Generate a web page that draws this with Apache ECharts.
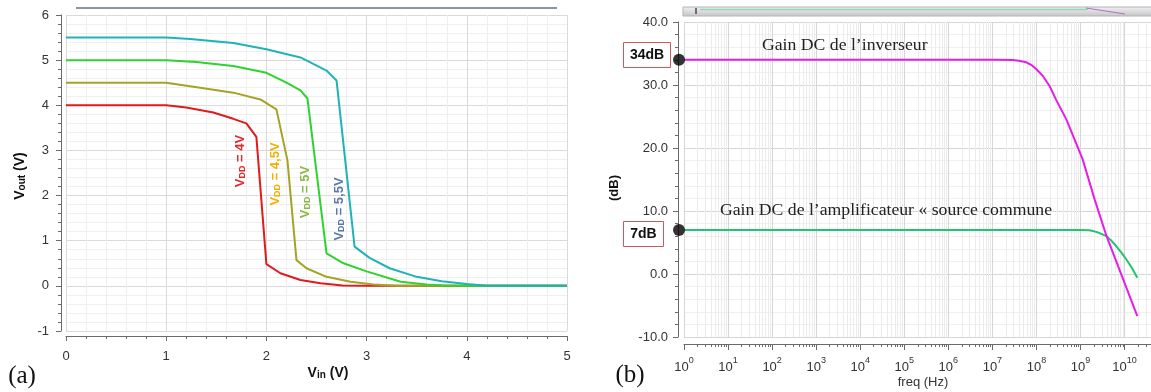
<!DOCTYPE html>
<html><head><meta charset="utf-8">
<script src="https://cdn.jsdelivr.net/npm/echarts@6/dist/echarts.min.js"></script>
<style>html,body{margin:0;padding:0;background:#fff}#c{width:1151px;height:392px}</style>
</head><body><div id="c"></div>
<script>
// ---------- Panel (a): inverter transfer curves ----------
const vinRed  = [0, 1.0, 1.2, 1.47, 1.67, 1.8, 1.9, 2.0, 2.14, 2.34, 2.54, 2.76, 3.0, 5.0];
const voutRed = [4.0, 4.0, 3.95, 3.84, 3.7, 3.6, 3.3, 0.48, 0.28, 0.13, 0.06, 0.01, 0, 0];
const vinOlive  = [0, 1.0, 1.34, 1.67, 1.94, 2.1, 2.21, 2.3, 2.4, 2.6, 2.84, 3.07, 3.3, 5.0];
const voutOlive = [4.5, 4.5, 4.39, 4.28, 4.13, 3.91, 2.78, 0.57, 0.39, 0.2, 0.09, 0.03, 0, 0];
const vinGreen  = [0, 1.0, 1.3, 1.67, 2.0, 2.2, 2.34, 2.41, 2.6, 2.77, 3.0, 3.34, 3.6, 3.8, 5.0];
const voutGreen = [5.0, 5.0, 4.96, 4.87, 4.72, 4.5, 4.33, 4.15, 0.72, 0.5, 0.32, 0.09, 0.03, 0, 0];
const vinCyan  = [0, 1.0, 1.24, 1.67, 2.0, 2.34, 2.6, 2.7, 2.88, 3.03, 3.23, 3.5, 3.75, 4.0, 4.2, 5.0];
const voutCyan = [5.5, 5.5, 5.47, 5.38, 5.24, 5.06, 4.77, 4.55, 0.87, 0.62, 0.39, 0.2, 0.1, 0.04, 0, 0];
const vddLabels = ['4V', '4,5V', '5V', '5,5V'];
const vinRange = [0, 5];
const voutRange = [-1, 6];

// ---------- Panel (b): gain vs frequency ----------
const invFreq = [1, 1.23e7, 2.9e7, 3.98e7, 5.9e7, 7.94e7, 1e8, 1.41e8, 2e8, 2.82e8, 4.8e8, 7.08e8, 1.12e9, 2.1e9, 3.9e9, 1.95e10];
const invGain = [34, 34, 33.95, 33.85, 33.6, 33.1, 32.5, 31.4, 29.8, 27.6, 24.5, 21.6, 18.2, 11.8, 6.0, -6.7];
const csFreq = [1, 8.7e8, 1.6e9, 2e9, 2.7e9, 3.9e9, 5e9, 6.5e9, 8.5e9, 1.1e10, 1.48e10, 1.95e10];
const csGain = [7, 7, 6.95, 6.8, 6.5, 6.0, 5.3, 4.4, 3.4, 2.3, 0.9, -0.6];
const dcPoints = [[1, 34], [1, 7]];
const dcLabels = ['34dB', '7dB'];
const gainRange = [-10, 40];
const freqDecades = [0, 10];

const zip = (a, b) => a.map((v, i) => [v, b[i]]);
const fMax = Math.pow(10, 10.6);
const minorFreqs = [];
for (let n = freqDecades[0]; n <= freqDecades[1]; n++) {
  for (let k = 2; k <= 9; k++) { const f = k * Math.pow(10, n); if (f < fMax) minorFreqs.push(f); }
}

const axisCol = '#6a6a6a';
const labCol = '#333';
const sans = '"Liberation Sans", Arial, sans-serif';
const serif = '"Liberation Serif", "Times New Roman", serif';

const chart = echarts.init(document.getElementById('c'), null, {renderer: 'canvas'});
const txt = (o) => Object.assign({z: 100}, o);
const option = {
  animation: false,
  backgroundColor: '#fff',
  grid: [
    {left: 66, top: 15, width: 501, height: 316},
    {left: 684, top: 22, right: 0, height: 315}
  ],
  xAxis: [
    {gridIndex: 0, type: 'value', min: vinRange[0], max: vinRange[1], interval: 1, offset: 5,
     axisLine: {onZero: false, lineStyle: {color: axisCol}}, axisTick: {length: 5, lineStyle: {color: axisCol}},
     minorTick: {show: true, splitNumber: 5, length: 3, lineStyle: {color: axisCol}},
     splitLine: {show: true, lineStyle: {color: '#dadada'}},
     minorSplitLine: {show: true, lineStyle: {color: '#efefef'}},
     axisLabel: {margin: 14, fontSize: 13, color: labCol, fontFamily: sans}},
    {gridIndex: 1, type: 'log', logBase: 10, min: 1, max: fMax, interval: 1, offset: 7,
     axisLine: {onZero: false, lineStyle: {color: axisCol}}, axisTick: {length: 6, lineStyle: {color: axisCol}},
     splitLine: {show: true, lineStyle: {color: '#d6d6d6'}},
     axisLabel: {margin: 12, showMaxLabel: false, color: labCol, fontFamily: sans,
       formatter: v => { const e = Math.log10(v); if (Math.abs(e - Math.round(e)) > 1e-6) return ''; return '{b|10}{s|' + Math.round(e) + '}'; },
       rich: {b: {fontSize: 13, fontFamily: sans, color: labCol, lineHeight: 18, verticalAlign: 'bottom'},
              s: {fontSize: 9, fontFamily: sans, color: labCol, lineHeight: 10, verticalAlign: 'top'}}}}
  ],
  yAxis: [
    {gridIndex: 0, type: 'value', min: voutRange[0], max: voutRange[1], interval: 1, offset: 5,
     axisLine: {show: true, onZero: false, lineStyle: {color: axisCol}}, axisTick: {show: true, length: 5, lineStyle: {color: axisCol}},
     minorTick: {show: true, splitNumber: 5, length: 3, lineStyle: {color: axisCol}},
     splitLine: {show: true, lineStyle: {color: '#dadada'}},
     minorSplitLine: {show: true, lineStyle: {color: '#efefef'}},
     axisLabel: {margin: 12, fontSize: 13, color: labCol, fontFamily: sans}},
    {gridIndex: 1, type: 'value', min: gainRange[0], max: gainRange[1], interval: 10, offset: 6,
     axisLine: {show: true, onZero: false, lineStyle: {color: axisCol}}, axisTick: {show: true, length: 5, lineStyle: {color: axisCol}},
     minorTick: {show: true, splitNumber: 5, length: 3, lineStyle: {color: axisCol}},
     splitLine: {show: true, lineStyle: {color: '#d6d6d6'}},
     minorSplitLine: {show: true, lineStyle: {color: '#efefef'}},
     axisLabel: {margin: 10, fontSize: 13, color: labCol, fontFamily: sans, formatter: v => v.toFixed(1)}}
  ],
  series: [
    {type: 'line', xAxisIndex: 0, yAxisIndex: 0, data: zip(vinRed, voutRed), showSymbol: false, lineStyle: {width: 2, color: '#e01b1b'}, itemStyle: {color: '#e01b1b'}},
    {type: 'line', xAxisIndex: 0, yAxisIndex: 0, data: zip(vinOlive, voutOlive), showSymbol: false, lineStyle: {width: 2, color: '#a4a424'}, itemStyle: {color: '#a4a424'}},
    {type: 'line', xAxisIndex: 0, yAxisIndex: 0, data: zip(vinGreen, voutGreen), showSymbol: false, lineStyle: {width: 2, color: '#2ed32e'}, itemStyle: {color: '#2ed32e'}},
    {type: 'line', xAxisIndex: 0, yAxisIndex: 0, data: zip(vinCyan, voutCyan), showSymbol: false, lineStyle: {width: 2, color: '#1fb3b8'}, itemStyle: {color: '#1fb3b8'}},
    // log minor grid lines and minor ticks (positions through the log axis)
    {type: 'custom', xAxisIndex: 1, yAxisIndex: 1, z: 1, silent: true, clip: false,
     encode: {x: 0, y: 1},
     data: minorFreqs.map(f => [f, gainRange[0]]),
     renderItem: (p, api) => {
       const f = api.value(0);
       const c0 = api.coord([f, gainRange[0]]);
       const c1 = api.coord([f, gainRange[1]]);
       const x = Math.round(c0[0]) + 0.5;
       return {type: 'group', children: [
         {type: 'line', shape: {x1: x, y1: c0[1], x2: x, y2: c1[1]}, style: {stroke: '#ececec', lineWidth: 1}},
         {type: 'line', shape: {x1: x, y1: c0[1] + 7, x2: x, y2: c0[1] + 10}, style: {stroke: axisCol, lineWidth: 1}}
       ]};
     }},
    {type: 'line', xAxisIndex: 1, yAxisIndex: 1, z: 3, data: zip(csFreq, csGain), showSymbol: false, lineStyle: {width: 2, color: '#22c46e'}, itemStyle: {color: '#22c46e'}},
    {type: 'line', xAxisIndex: 1, yAxisIndex: 1, z: 3, data: zip(invFreq, invGain), showSymbol: false, lineStyle: {width: 2, color: '#e51ee5'}, itemStyle: {color: '#e51ee5'}},
    {type: 'scatter', xAxisIndex: 1, yAxisIndex: 1, data: dcPoints, symbolSize: 12, symbolOffset: [-5, 0], clip: false, z: 10, itemStyle: {color: '#000'}}
  ],
  graphic: [
    // top decorations
    txt({type: 'line', shape: {x1: 76, y1: 8, x2: 557, y2: 8}, style: {stroke: '#8797a3', lineWidth: 2}}),
    txt({type: 'rect', shape: {x: 683, y: 7, width: 470, height: 9}, style: {fill: new echarts.graphic.LinearGradient(0, 0, 0, 1, [{offset: 0, color: '#f2f2f2'}, {offset: 1, color: '#c4c4c8'}]), stroke: '#b4b4b8', lineWidth: 1}}),
    txt({type: 'line', shape: {x1: 700, y1: 9.5, x2: 1088, y2: 9.5}, style: {stroke: '#8ed8ae', lineWidth: 1.5}}),
    txt({type: 'line', shape: {x1: 1086, y1: 8, x2: 1125, y2: 14}, style: {stroke: '#b070c0', lineWidth: 1}}),
    txt({type: 'rect', shape: {x: 695, y: 8, width: 2, height: 6}, style: {fill: '#6c6c74'}}),
    // axis titles
    txt({type: 'text', x: 19, y: 176, rotation: Math.PI / 2, style: {text: '{v|V}{s|out}{v| (V)}', align: 'center', verticalAlign: 'middle',
      rich: {v: {fontSize: 14, fontWeight: 'bold', fontFamily: sans, fill: '#111', lineHeight: 16, verticalAlign: 'bottom'},
             s: {fontSize: 10, fontWeight: 'bold', fontFamily: sans, fill: '#111', lineHeight: 8, verticalAlign: 'bottom'}}}}),
    txt({type: 'text', x: 328, y: 372, style: {text: '{v|V}{s|in}{v| (V)}', align: 'center', verticalAlign: 'middle',
      rich: {v: {fontSize: 14, fontWeight: 'bold', fontFamily: sans, fill: '#111', lineHeight: 16, verticalAlign: 'bottom'},
             s: {fontSize: 10, fontWeight: 'bold', fontFamily: sans, fill: '#111', lineHeight: 8, verticalAlign: 'bottom'}}}}),
    txt({type: 'text', x: 614, y: 188, rotation: Math.PI / 2, style: {text: '(dB)', align: 'center', verticalAlign: 'middle', font: 'bold 13px ' + sans, fill: '#111'}}),
    txt({type: 'text', x: 923, y: 382, style: {text: 'freq (Hz)', align: 'center', verticalAlign: 'middle', font: '13px ' + sans, fill: '#333'}}),
    txt({type: 'text', x: 22, y: 376, style: {text: '(a)', align: 'center', verticalAlign: 'middle', font: '25px ' + serif, fill: '#111'}}),
    txt({type: 'text', x: 630, y: 375, style: {text: '(b)', align: 'center', verticalAlign: 'middle', font: '25px ' + serif, fill: '#111'}}),
    // VDD labels
    ...[[239, 161, '#e02828'], [274, 174, '#f0b000'], [304, 192, '#8ab846'], [338, 209, '#5878a8']].map((p, i) => txt({
      type: 'text', x: p[0], y: p[1], rotation: Math.PI / 2,
      style: {text: '{v|V}{s|DD}{v| = ' + vddLabels[i] + '}', align: 'center', verticalAlign: 'middle',
        rich: {v: {fontSize: 13, fontWeight: 'bold', fontFamily: sans, fill: p[2], lineHeight: 16, verticalAlign: 'bottom'},
               s: {fontSize: 9, fontWeight: 'bold', fontFamily: sans, fill: p[2], lineHeight: 8, verticalAlign: 'bottom'}}}
    })),
    // annotations panel b
    txt({type: 'text', x: 762, y: 45, style: {text: 'Gain DC de l’inverseur', align: 'left', verticalAlign: 'middle', font: '17.7px ' + serif, fill: '#222'}}),
    txt({type: 'text', x: 720, y: 210, style: {text: 'Gain DC de l’amplificateur « source commune', align: 'left', verticalAlign: 'middle', font: '17.7px ' + serif, fill: '#222'}}),
    txt({type: 'rect', shape: {x: 623.5, y: 42.5, width: 47, height: 25}, style: {fill: '#fff', stroke: '#d05858', lineWidth: 1}}),
    txt({type: 'text', x: 647, y: 55, style: {text: dcLabels[0], align: 'center', verticalAlign: 'middle', font: 'bold 14px ' + sans, fill: '#111'}}),
    txt({type: 'rect', shape: {x: 623.5, y: 221.5, width: 40, height: 25}, style: {fill: '#fff', stroke: '#d05858', lineWidth: 1}}),
    txt({type: 'text', x: 643.5, y: 234, style: {text: dcLabels[1], align: 'center', verticalAlign: 'middle', font: 'bold 14px ' + sans, fill: '#111'}})
  ]
};
chart.setOption(option);
</script>
</body></html>
